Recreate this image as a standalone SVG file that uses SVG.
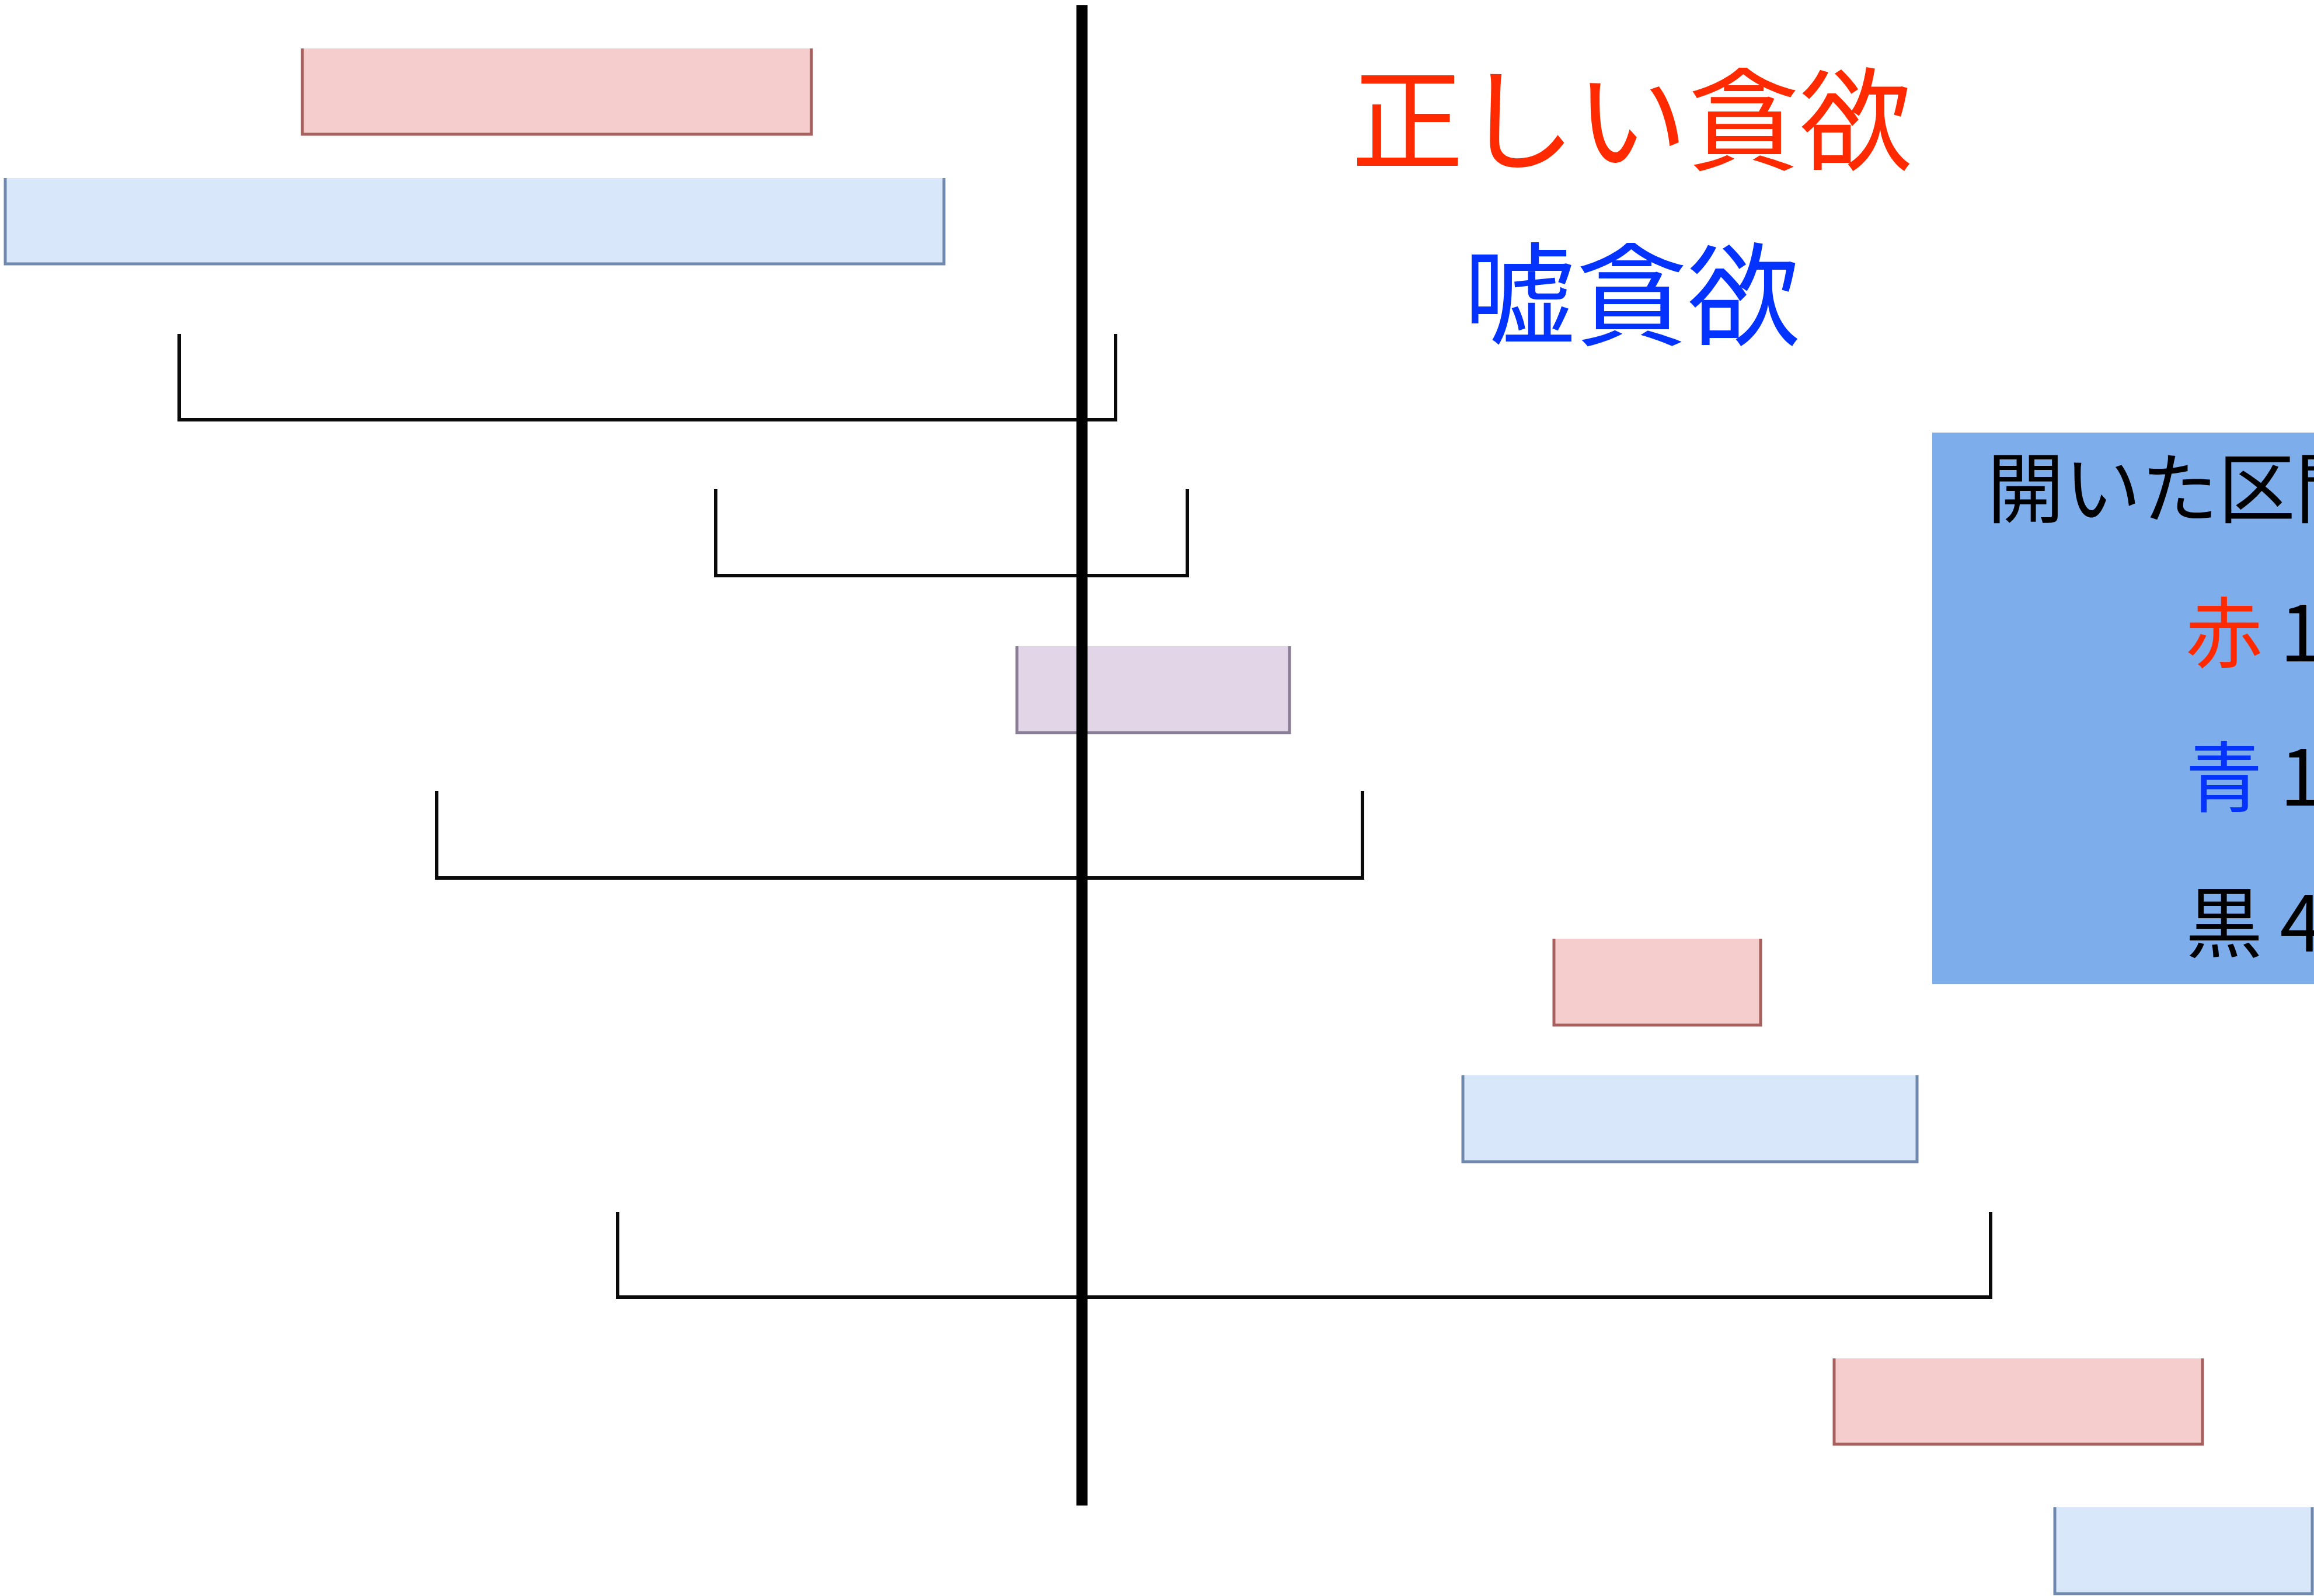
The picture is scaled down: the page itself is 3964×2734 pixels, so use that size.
<svg xmlns="http://www.w3.org/2000/svg" width="3964" height="2734" viewBox="0 0 3964 2734">
<style>
.red rect{fill:#f5cdcd}
.red path{fill:none;stroke:#a8605f;stroke-width:5}
.blue rect{fill:#d9e7fa}
.blue path{fill:none;stroke:#6f88ad;stroke-width:5}
.purple rect{fill:#e1d5e7}
.purple path{fill:none;stroke:#8a7d96;stroke-width:5}
.br{fill:none;stroke:#0a0a0a;stroke-width:6}
.t{font-family:"Noto Sans CJK JP","Noto Sans CJK SC",sans-serif}
</style>
<rect width="3964" height="2734" fill="#ffffff"/>
<g id="red1" class="red"><rect x="518" y="83" width="872" height="147"/><path d="M518,83 V230 H1390 V83"/></g>
<g id="blue1" class="blue"><rect x="9" y="305" width="1608" height="147"/><path d="M9,305 V452 H1617 V305"/></g>
<g id="purple1" class="purple"><rect x="1742" y="1107" width="467" height="148"/><path d="M1742,1107 V1255 H2209 V1107"/></g>
<g id="red2" class="red"><rect x="2662" y="1608" width="354" height="148"/><path d="M2662,1608 V1756 H3016 V1608"/></g>
<g id="blue2" class="blue"><rect x="2506" y="1842" width="778" height="148"/><path d="M2506,1842 V1990 H3284 V1842"/></g>
<g id="red3" class="red"><rect x="3142" y="2327" width="631" height="147"/><path d="M3142,2327 V2474 H3773 V2327"/></g>
<g id="blue3" class="blue"><rect x="3520" y="2582" width="441" height="148"/><path d="M3520,2582 V2730 H3961 V2582"/></g>
<g id="connectors">
<path class="br" d="M307,572 V719 H1911 V572"/>
<path class="br" d="M1226,838 V986 H2034 V838"/>
<path class="br" d="M748,1355 V1504 H2334 V1355"/>
<path class="br" d="M1058,2076 V2222 H3410 V2076"/>
</g>
<g id="axis"><rect x="1844" y="9" width="19" height="2570" fill="#000"/></g>
<g id="title">
<text class="t" x="2795" y="277" font-size="192" fill="#ff2a00" text-anchor="middle">正しい貪欲</text>
<text class="t" x="2795" y="577" font-size="192" fill="#0433ff" text-anchor="middle">嘘貪欲</text>
</g>
<g id="legend">
<rect x="3310" y="741" width="660" height="945" fill="#7eadec"/>
<text class="t" x="3404" y="885" font-size="132" fill="#000">開いた区間</text>
<text class="t" x="3744" y="1133" font-size="132" fill="#000"><tspan fill="#ff2a00">赤</tspan> 1</text>
<text class="t" x="3744" y="1380" font-size="132" fill="#000"><tspan fill="#0433ff">青</tspan> 1</text>
<text class="t" x="3744" y="1630" font-size="132" fill="#000">黒 4</text>
</g>
</svg>
